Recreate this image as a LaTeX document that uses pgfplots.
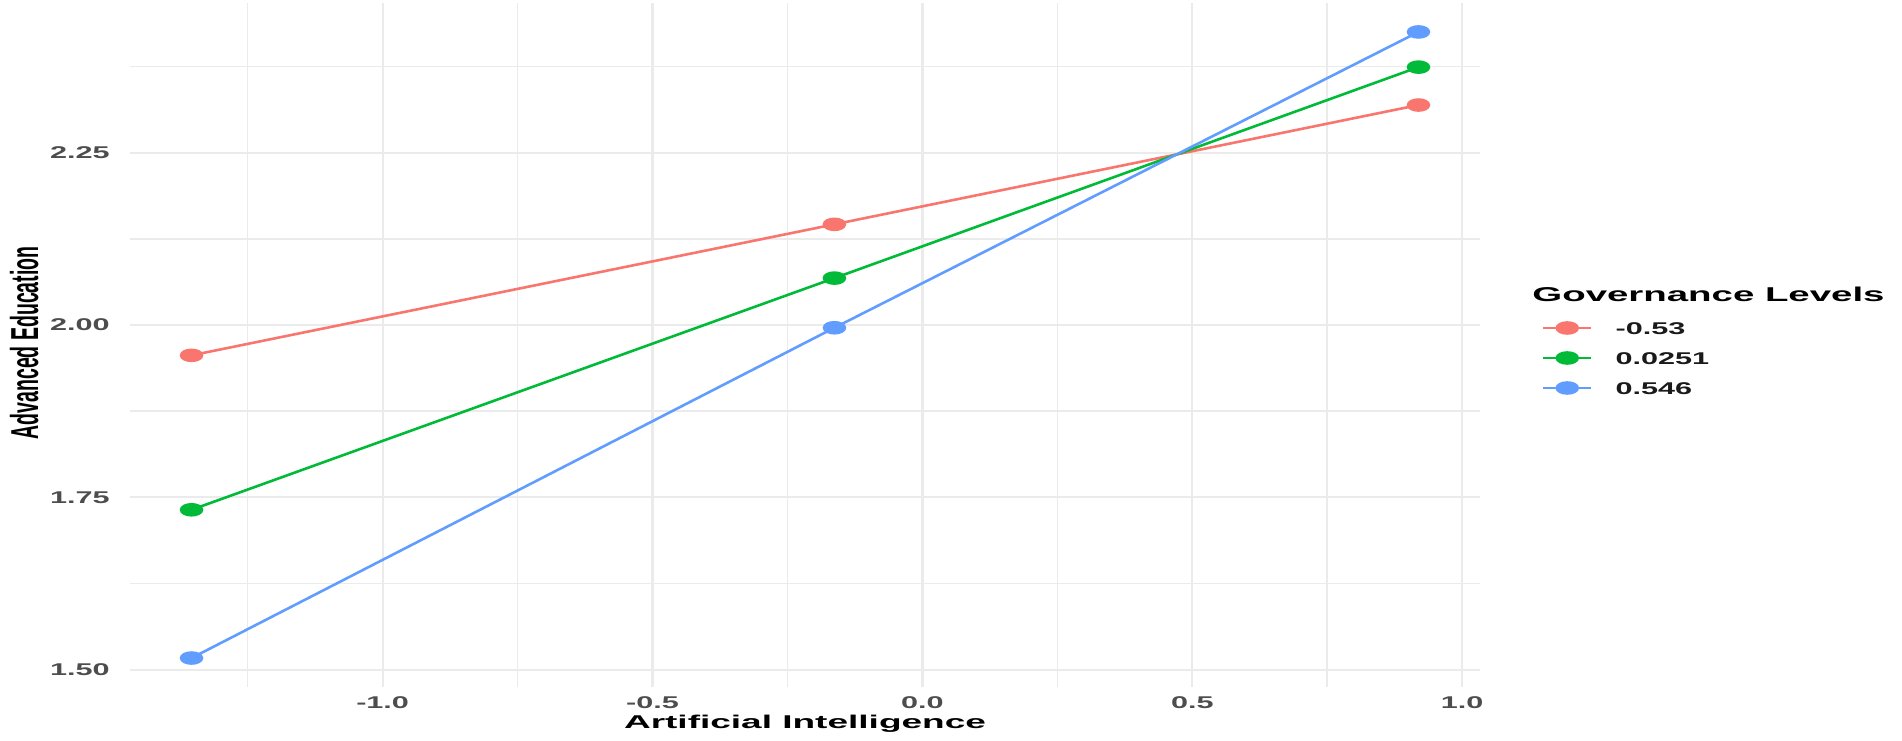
\documentclass[border=0pt]{standalone}
\usepackage{pgfplots}
\pgfplotsset{compat=1.18}
\usepackage{fontspec}
\setmainfont{Liberation Sans}
\newfontfamily\tickf{Liberation Sans}[FakeStretch=1.8]
\newfontfamily\labf{Liberation Sans}[FakeStretch=2.0]
\newfontfamily\titf{Liberation Sans}[FakeStretch=1.92]
\newfontfamily\ylabf{Liberation Sans}[FakeStretch=0.5]
\definecolor{cred}{HTML}{F8766D}
\definecolor{cgreen}{HTML}{00BA38}
\definecolor{cblue}{HTML}{619CFF}
\definecolor{gridc}{HTML}{EBEBEB}
\definecolor{tickc}{HTML}{4D4D4D}
\definecolor{textc}{HTML}{1A1A1A}

\begin{document}
\begin{tikzpicture}
\useasboundingbox (-65bp,-27bp) rectangle (886bp,343.5bp);
\begin{axis}[
  at={(0,0)}, anchor=south west,
  width=675bp, height=342bp, scale only axis,
  xmin=-1.468, xmax=1.033, ymin=1.475, ymax=2.467,
  xtick={-1,-0.5,0,0.5,1}, xticklabels={-1.0,-0.5,0.0,0.5,1.0},
  ytick={1.5,1.75,2,2.25}, yticklabels={1.50,1.75,2.00,2.25},
  minor xtick={-1.25,-0.75,-0.25,0.25,0.75},
  minor ytick={1.625,1.875,2.125,2.375},
  grid=both,
  major grid style={gridc, line width=1.1bp},
  minor grid style={gridc, line width=0.8bp},
  axis line style={draw=none},
  tick style={draw=none},
  xticklabel style={font=\fontsize{8.5bp}{10bp}\selectfont\tickf\bfseries, text=tickc, anchor=north, inner sep=0pt, yshift=-4.5bp},
  yticklabel style={font=\fontsize{8.5bp}{10bp}\selectfont\tickf\bfseries, text=tickc, anchor=east, inner sep=0pt, xshift=-10bp},
  xlabel={Artificial Intelligence},
  ylabel={Advanced Education},
  every axis x label/.style={at={(axis description cs:0.5,0)}, anchor=base, yshift=-20.65bp, font=\fontsize{9.25bp}{11bp}\selectfont\labf\bfseries, text=black},
  every axis y label/.style={at={(axis description cs:-0.0681,0.503)}, rotate=90, anchor=base, font=\fontsize{19.5bp}{22bp}\selectfont\ylabf\bfseries, text=black},
  legend style={at={(1.0459,0.481)}, anchor=west, draw=none, fill=none, inner sep=0pt, outer sep=0pt, row sep=8.9bp,
    font=\fontsize{8.5bp}{10bp}\selectfont\tickf\bfseries, text=textc,
    nodes={inner sep=0pt, text height=6.1bp, text depth=0pt},
    /tikz/every odd column/.append style={column sep=11.5bp}},
  legend cell align=left,
  legend image code/.code={\draw[mark repeat=2, mark phase=2, #1] plot coordinates {(0bp,0bp) (12bp,0bp) (24bp,0bp)};},
  every axis plot/.append style={line width=1.3bp, mark=*, mark size=2.75bp},
]
\addplot[cred, mark options={xscale=1.9, fill=cred, draw=cred}] coordinates {(-1.354,1.956) (-0.163,2.146) (0.919,2.319)};
\addlegendentry{-0.53}
\addplot[cgreen, mark options={xscale=1.9, fill=cgreen, draw=cgreen}] coordinates {(-1.354,1.732) (-0.163,2.068) (0.919,2.374)};
\addlegendentry{0.0251}
\addplot[cblue, mark options={xscale=1.9, fill=cblue, draw=cblue}] coordinates {(-1.354,1.517) (-0.163,1.996) (0.919,2.425)};
\addlegendentry{0.546}
\end{axis}
\node[anchor=west, inner sep=0pt, font=\fontsize{10bp}{12bp}\selectfont\titf\bfseries, text=black] at (701bp,196.5bp) {Governance Levels};
\end{tikzpicture}
\end{document}
